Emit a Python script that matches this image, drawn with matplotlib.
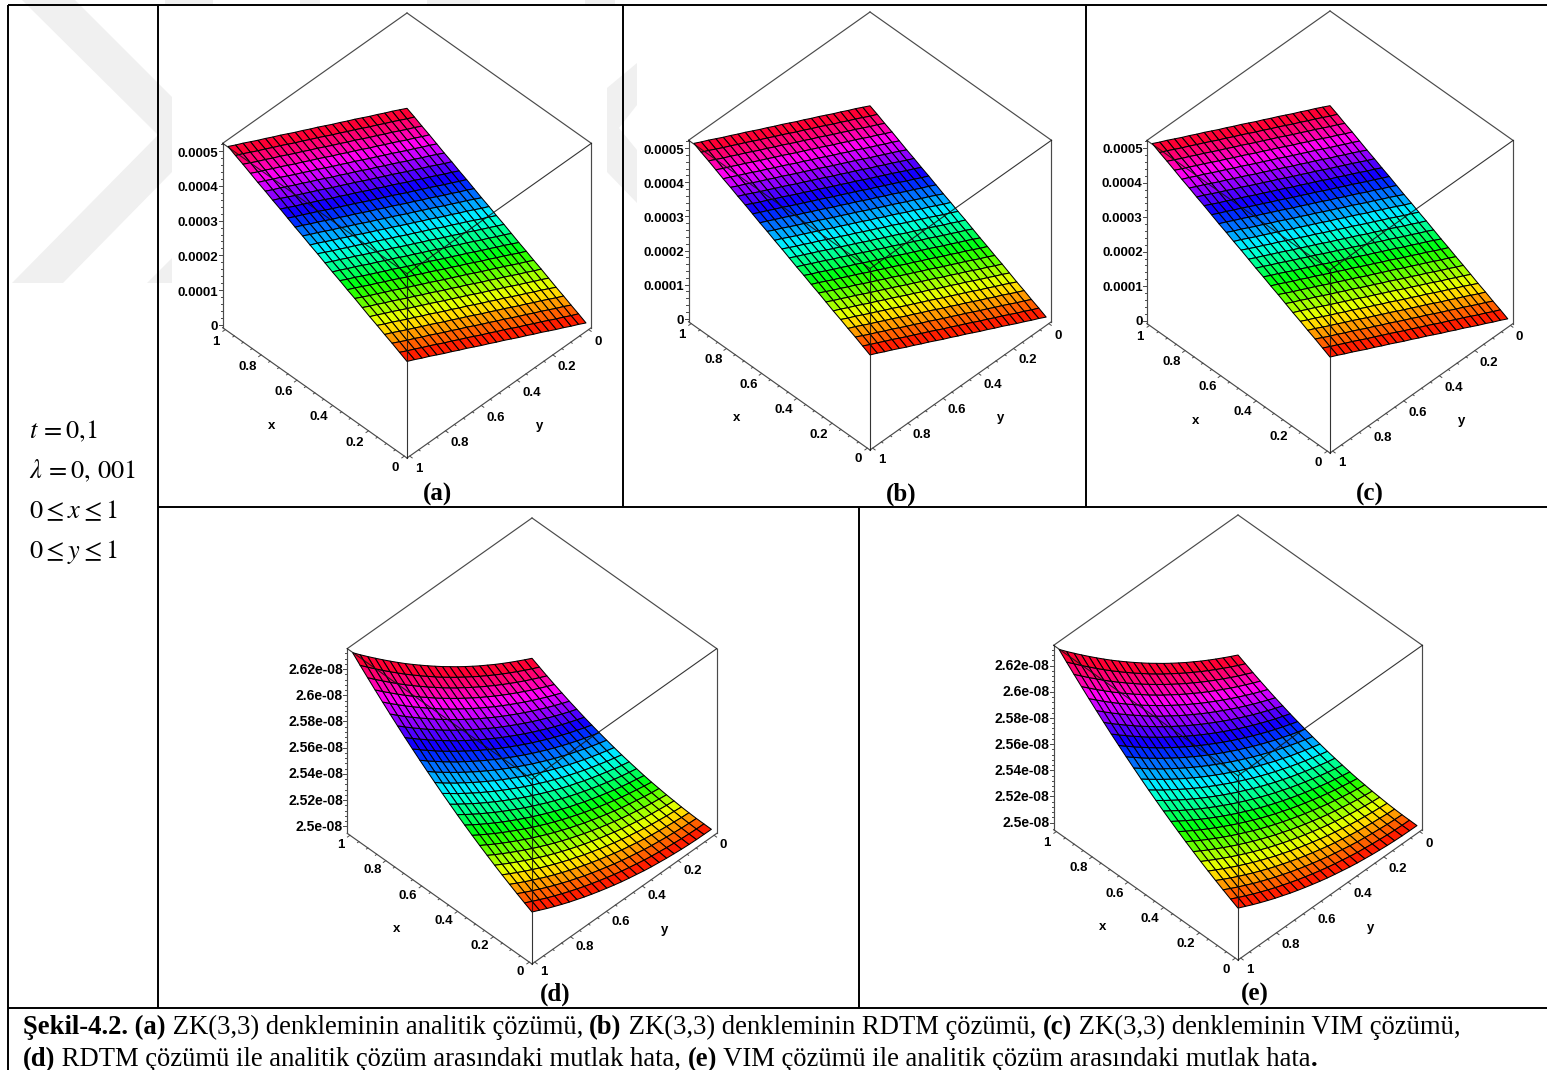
"""Şekil-4.2: ZK(3,3) surfaces and absolute errors, as Maple-style 3D boxes in a table."""

import matplotlib
matplotlib.use("Agg")
import matplotlib.pyplot as plt
import numpy as np
from matplotlib.patches import Polygon
from mpl_toolkits.mplot3d import proj3d

plt.rcParams["mathtext.fontset"] = "stix"

W, H = 1547, 1070
SANS = "Liberation Sans"
SERIF = "Liberation Serif"

# surface height against grid diagonal i + j (x + y = (i + j) / 24)
z_solution = [0.05, 0.16, 0.26, 0.37, 0.47, 0.58, 0.69, 0.79, 0.90, 1.00, 1.11, 1.22, 1.32,
              1.43, 1.53, 1.64, 1.75, 1.85, 1.96, 2.06, 2.17, 2.28, 2.38, 2.49, 2.59, 2.70,
              2.81, 2.91, 3.02, 3.12, 3.23, 3.34, 3.44, 3.55, 3.65, 3.76, 3.87, 3.97, 4.08,
              4.18, 4.29, 4.40, 4.50, 4.61, 4.71, 4.82, 4.93, 5.03, 5.14]   # x 1e-4
z_error = [2.4977, 2.4978, 2.4979, 2.4982, 2.4986, 2.4992, 2.4998, 2.5006, 2.5014, 2.5024,
           2.5036, 2.5048, 2.5061, 2.5076, 2.5092, 2.5109, 2.5127, 2.5146, 2.5167, 2.5188,
           2.5211, 2.5235, 2.5260, 2.5287, 2.5314, 2.5343, 2.5373, 2.5404, 2.5436, 2.5469,
           2.5504, 2.5539, 2.5576, 2.5614, 2.5653, 2.5694, 2.5735, 2.5778, 2.5822, 2.5867,
           2.5913, 2.5960, 2.6009, 2.6059, 2.6110, 2.6162, 2.6215, 2.6269, 2.6325]   # x 1e-8

xy_ticks = [0, 0.2, 0.4, 0.6, 0.8, 1]
xy_labels = ["0", "0.2", "0.4", "0.6", "0.8", "1"]
sol_ticks = [0, 1e-4, 2e-4, 3e-4, 4e-4, 5e-4]
sol_labels = ["0", "0.0001", "0.0002", "0.0003", "0.0004", "0.0005"]
err_ticks = [2.50e-8, 2.52e-8, 2.54e-8, 2.56e-8, 2.58e-8, 2.60e-8, 2.62e-8]
err_labels = ["2.5e-08", "2.52e-08", "2.54e-08", "2.56e-08", "2.58e-08", "2.6e-08", "2.62e-08"]

side_text = [r"$t\,=0,\!1$", r"$\lambda\,=0,\,001$", r"$0\leq x\leq 1$", r"$0\leq y\leq 1$"]

caption_1 = [("Şekil-4.2. (a)", True), (" ZK(3,3) denkleminin analitik çözümü, ", False),
             ("(b)", True), (" ZK(3,3) denkleminin RDTM çözümü, ", False),
             ("(c)", True), (" ZK(3,3) denkleminin VIM çözümü,", False)]
caption_2 = [("(d)", True), (" RDTM çözümü ile analitik çözüm arasındaki mutlak hata, ", False),
             ("(e)", True), (" VIM çözümü ile analitik çözüm arasındaki mutlak hata", False),
             (".", True)]

XLO, XHI = -0.015, 1.015
N = 25


def draw_panel(fig, cx, top, bottom, z_diag, zlim, ticks, labels, minor, nudge_xy, nudge_z, z_size):
    # cube seen at elev 45: place the square axes so the box lands on the given pixels
    S = (bottom - top) / 2 / 0.5076
    cy = (top + bottom) / 2
    ax = fig.add_axes([(cx - 0.5135 * S) / W, (H - cy - 0.5135 * S) / H, S / W, S / H],
                      projection="3d", computed_zorder=False)
    ax.set_proj_type("ortho")
    ax.view_init(elev=45, azim=135)
    ax.set_box_aspect((1, 1, 1))
    ax.set_xlim(XLO, XHI)
    ax.set_ylim(XLO, XHI)
    ax.set_zlim(*zlim)
    ax.set_axis_off()
    ax.patch.set_visible(False)

    zlo, zhi = zlim
    grid = np.linspace(0, 1, N)
    X, Y = np.meshgrid(grid, grid, indexing="ij")
    i, j = np.indices((N, N))
    Z = np.asarray(z_diag)[i + j]
    colors = plt.cm.hsv((X + 0.5 / (N - 1)) % 1.0)   # hue runs with x, taken at cell centre
    ax.plot_surface(X, Y, Z, facecolors=colors, edgecolor="k", linewidth=0.75,
                    rcount=N, ccount=N, shade=False, antialiased=True, zorder=2)

    # box: back/outer edges under the surface, front edges over it
    grey = "#4a4a4a"
    back = [((XHI, XHI, zhi), (XHI, XLO, zhi)), ((XHI, XLO, zhi), (XLO, XLO, zhi)),
            ((XHI, XHI, zlo), (XHI, XHI, zhi)), ((XLO, XLO, zlo), (XLO, XLO, zhi)),
            ((XHI, XHI, zlo), (XLO, XHI, zlo)), ((XLO, XHI, zlo), (XLO, XLO, zlo))]
    front = [((XHI, XHI, zhi), (XLO, XHI, zhi)), ((XLO, XLO, zhi), (XLO, XHI, zhi)),
             ((XLO, XHI, zlo), (XLO, XHI, zhi))]
    for a, b in back:
        ax.plot(*zip(a, b), color=grey, lw=0.85, zorder=1, clip_on=False)
    for a, b in front:
        ax.plot(*zip(a, b), color="#111111", lw=0.8, alpha=0.85, zorder=3, clip_on=False)

    # labels go through the 3D projection but stay plain 2D text, nudged in pixels
    M = ax.get_proj()
    px = 0.185 / S

    def label(x, y, z, s, ha="center", dx=0, dy=nudge_xy, size=9.5):
        u, v, _ = proj3d.proj_transform(x, y, z, M)
        ax.text2D(u + dx * px, v - dy * px, s, ha=ha, va="center", family=SANS,
                  weight="bold", fontsize=size, zorder=4, clip_on=False)

    # x and y axis ticks
    for v in np.arange(0, 1.001, 0.05):
        d = 0.014 if abs(v * 5 - round(v * 5)) < 1e-6 else 0.008
        ax.plot([v, v], [XHI, XHI + d], [zlo, zlo], color=grey, lw=0.7, zorder=1)
        ax.plot([XLO, XLO - d], [v, v], [zlo, zlo], color=grey, lw=0.7, zorder=1)
    for v, s in zip(xy_ticks, xy_labels):
        label(v, 1.09, zlo, s, dx=4 if len(s) == 1 else 0)
        label(-0.095, v, zlo, s, dx=-5 if len(s) == 1 else 0)
    label(0.5, 1.257, zlo, "x")
    label(-0.25, 0.51, zlo, "y")

    # z axis ticks
    for v in np.arange(ticks[0], zhi, minor):
        ax.plot([XHI, XHI + 0.006], [XHI, XHI + 0.006], [v, v], color=grey, lw=0.7, zorder=1)
    for v, s in zip(ticks, labels):
        ax.plot([XHI, XHI + 0.011], [XHI, XHI + 0.011], [v, v], color=grey, lw=0.7, zorder=1)
        label(XHI + 0.012, XHI + 0.012, v, s, ha="right", dy=nudge_z, size=z_size)


def draw_runs(bg, renderer, x, y, runs, size):
    for s, bold in runs:
        t = bg.text(x, y, s, family=SERIF, fontsize=size, va="baseline", ha="left",
                    weight="bold" if bold else "normal")
        x = bg.transData.inverted().transform(t.get_window_extent(renderer))[1, 0]


fig = plt.figure(figsize=(W / 100, H / 100), dpi=100)
bg = fig.add_axes([0, 0, 1, 1])
bg.set_xlim(0, W)
bg.set_ylim(H, 0)
bg.set_axis_off()

# faint chevron watermark behind the table
mark = "#f0f0f0"
bg.add_patch(Polygon([(22, 0), (75, 0), (172, 97), (172, 172), (63, 283), (12, 283), (158, 135)],
                     fc=mark, ec="none"))
bg.add_patch(Polygon([(147, 283), (172, 283), (172, 258)], fc=mark, ec="none"))
bg.add_patch(Polygon([(607, 88), (637, 63), (637, 105), (619, 128), (637, 150), (637, 203), (607, 172)],
                     fc=mark, ec="none"))
for a, b in [(165, 213), (300, 320), (427, 480), (585, 615)]:
    bg.add_patch(Polygon([(a, 0), (b, 0), (b, 5), (a, 5)], fc=mark, ec="none"))

# table rules
rules = [((8, W), (5, 5)), ((8, 8), (5, H)), ((158, 158), (5, 1008)), ((623, 623), (5, 507)),
         ((1086, 1086), (5, 507)), ((859, 859), (507, 1008)), ((158, W), (507, 507)),
         ((8, W), (1008, 1008))]
for xs, ys in rules:
    bg.plot(xs, ys, color="k", lw=1.4, solid_capstyle="butt")

sol_lim = (-0.0000086, 0.000523)
err_lim = (2.4946e-8, 2.6356e-8)
sol_z = np.array(z_solution) * 1e-4
err_z = np.array(z_error) * 1e-8

draw_panel(fig, 407, 13, 458, sol_z, sol_lim, sol_ticks, sol_labels, 2e-5, 2.5, 2.5, 9.5)
draw_panel(fig, 870, 12, 450, sol_z, sol_lim, sol_ticks, sol_labels, 2e-5, 2.0, 2.5, 9.5)
draw_panel(fig, 1330, 11, 453, sol_z, sol_lim, sol_ticks, sol_labels, 2e-5, 2.0, 1.5, 9.5)
draw_panel(fig, 532, 518, 964, err_z, err_lim, err_ticks, err_labels, 0.004e-8, 0.0, 0.5, 10)
draw_panel(fig, 1238, 515, 960, err_z, err_lim, err_ticks, err_labels, 0.004e-8, 2.0, 0.5, 10)

for s, x, y in [("(a)", 438, 494), ("(b)", 901, 494), ("(c)", 1370, 494),
                ("(d)", 555, 994), ("(e)", 1255, 994)]:
    bg.text(x, y, s, family=SERIF, weight="bold", fontsize=18, ha="center", va="center")

for s, y in zip(side_text, [431.5, 471.5, 511.5, 552]):
    bg.text(29, y, s, fontsize=19, ha="left", va="center")

renderer = fig.canvas.get_renderer()
draw_runs(bg, renderer, 23, 1034, caption_1, 19.2)
draw_runs(bg, renderer, 23, 1066, caption_2, 19.2)

fig.savefig("out.png", dpi=100)
